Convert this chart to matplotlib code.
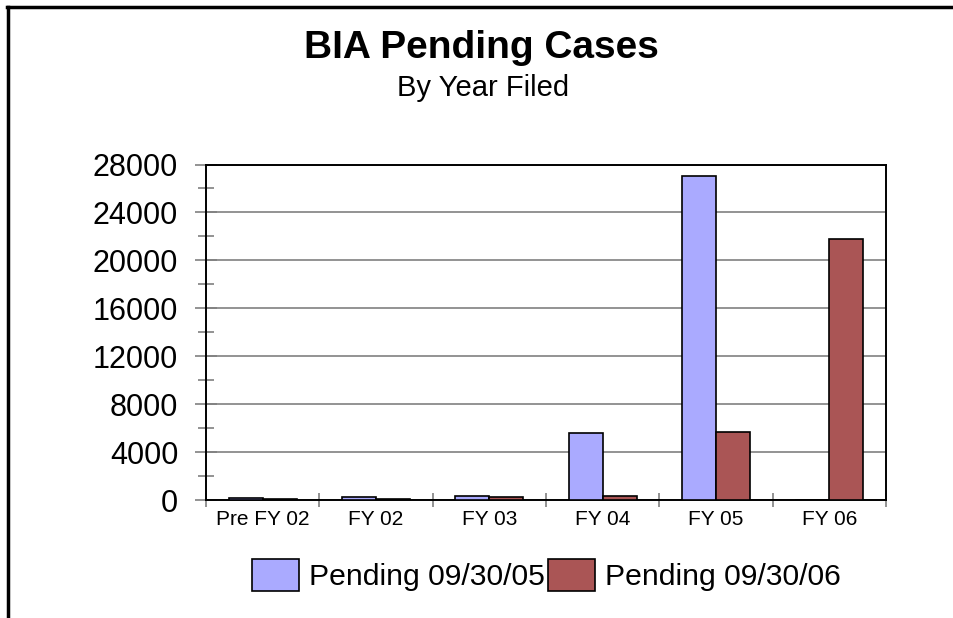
import numpy as np
import matplotlib
matplotlib.use("Agg")
import matplotlib.pyplot as plt
from matplotlib.lines import Line2D

plt.rcParams["font.family"] = ["Liberation Sans", "DejaVu Sans"]

categories = ["Pre FY 02", "FY 02", "FY 03", "FY 04", "FY 05", "FY 06"]
pending_05 = [140, 220, 360, 5550, 27000, 0]
pending_06 = [80, 110, 220, 330, 5700, 21750]
series_names = ["Pending 09/30/05", "Pending 09/30/06"]
yticks = list(range(0, 28001, 4000))

fig = plt.figure(figsize=(9.54, 6.18), dpi=100)
ax = fig.add_axes([206 / 954, 1 - 500 / 618, 680 / 954, 335.5 / 618])

x = np.arange(len(categories))
w = 0.3
ax.bar(x - w / 2, pending_05, w, color="#aaaaff", edgecolor="black", linewidth=1.2,
       label=series_names[0], zorder=3)
ax.bar(x + w / 2, pending_06, w, color="#aa5555", edgecolor="black", linewidth=1.2,
       label=series_names[1], zorder=3)

ax.set_xlim(-0.5, len(categories) - 0.5)
ax.set_ylim(0, 28000)
ax.set_yticks(yticks)
ax.set_yticks(range(2000, 28000, 4000), minor=True)
ax.set_xticks(x)
ax.set_xticklabels(categories, fontsize=15)
ax.set_xticks(np.arange(-0.5, len(categories)), minor=True)
ax.tick_params(axis="y", which="major", labelsize=22, direction="inout", length=16,
               width=1.2, color="#808080", pad=12)
ax.tick_params(axis="y", which="minor", direction="inout", length=11, width=1.2,
               color="#808080")
ax.tick_params(axis="x", which="major", length=0, pad=7)
ax.tick_params(axis="x", which="minor", direction="inout", length=10, width=1.2,
               color="#808080")
ax.yaxis.grid(True, color="#808080", linewidth=1.2, zorder=0)
ax.set_axisbelow(True)
for s in ax.spines.values():
    s.set_color("black")
    s.set_linewidth(1.4)

fig.text(481 / 954, 1 - 58 / 618, "BIA Pending Cases", ha="center", va="baseline",
         fontsize=28, fontweight="bold")
fig.text(483 / 954, 1 - 96 / 618, "By Year Filed", ha="center", va="baseline",
         fontsize=21)

fig.legend(loc="center", bbox_to_anchor=(546.5 / 954, 1 - 575 / 618), ncol=2,
           frameon=False, fontsize=21.7, handlelength=1.55, handleheight=1.3,
           handletextpad=0.35, columnspacing=0.1, borderaxespad=0)

# page border on the left and top
fig.add_artist(Line2D([8.5 / 954, 8.5 / 954], [0, 1 - 6.5 / 618], color="black",
                      linewidth=2.5, transform=fig.transFigure))
fig.add_artist(Line2D([7 / 954, 1], [1 - 6.5 / 618, 1 - 6.5 / 618], color="black",
                      linewidth=2.5, transform=fig.transFigure))

fig.savefig("out.png", dpi=100)
